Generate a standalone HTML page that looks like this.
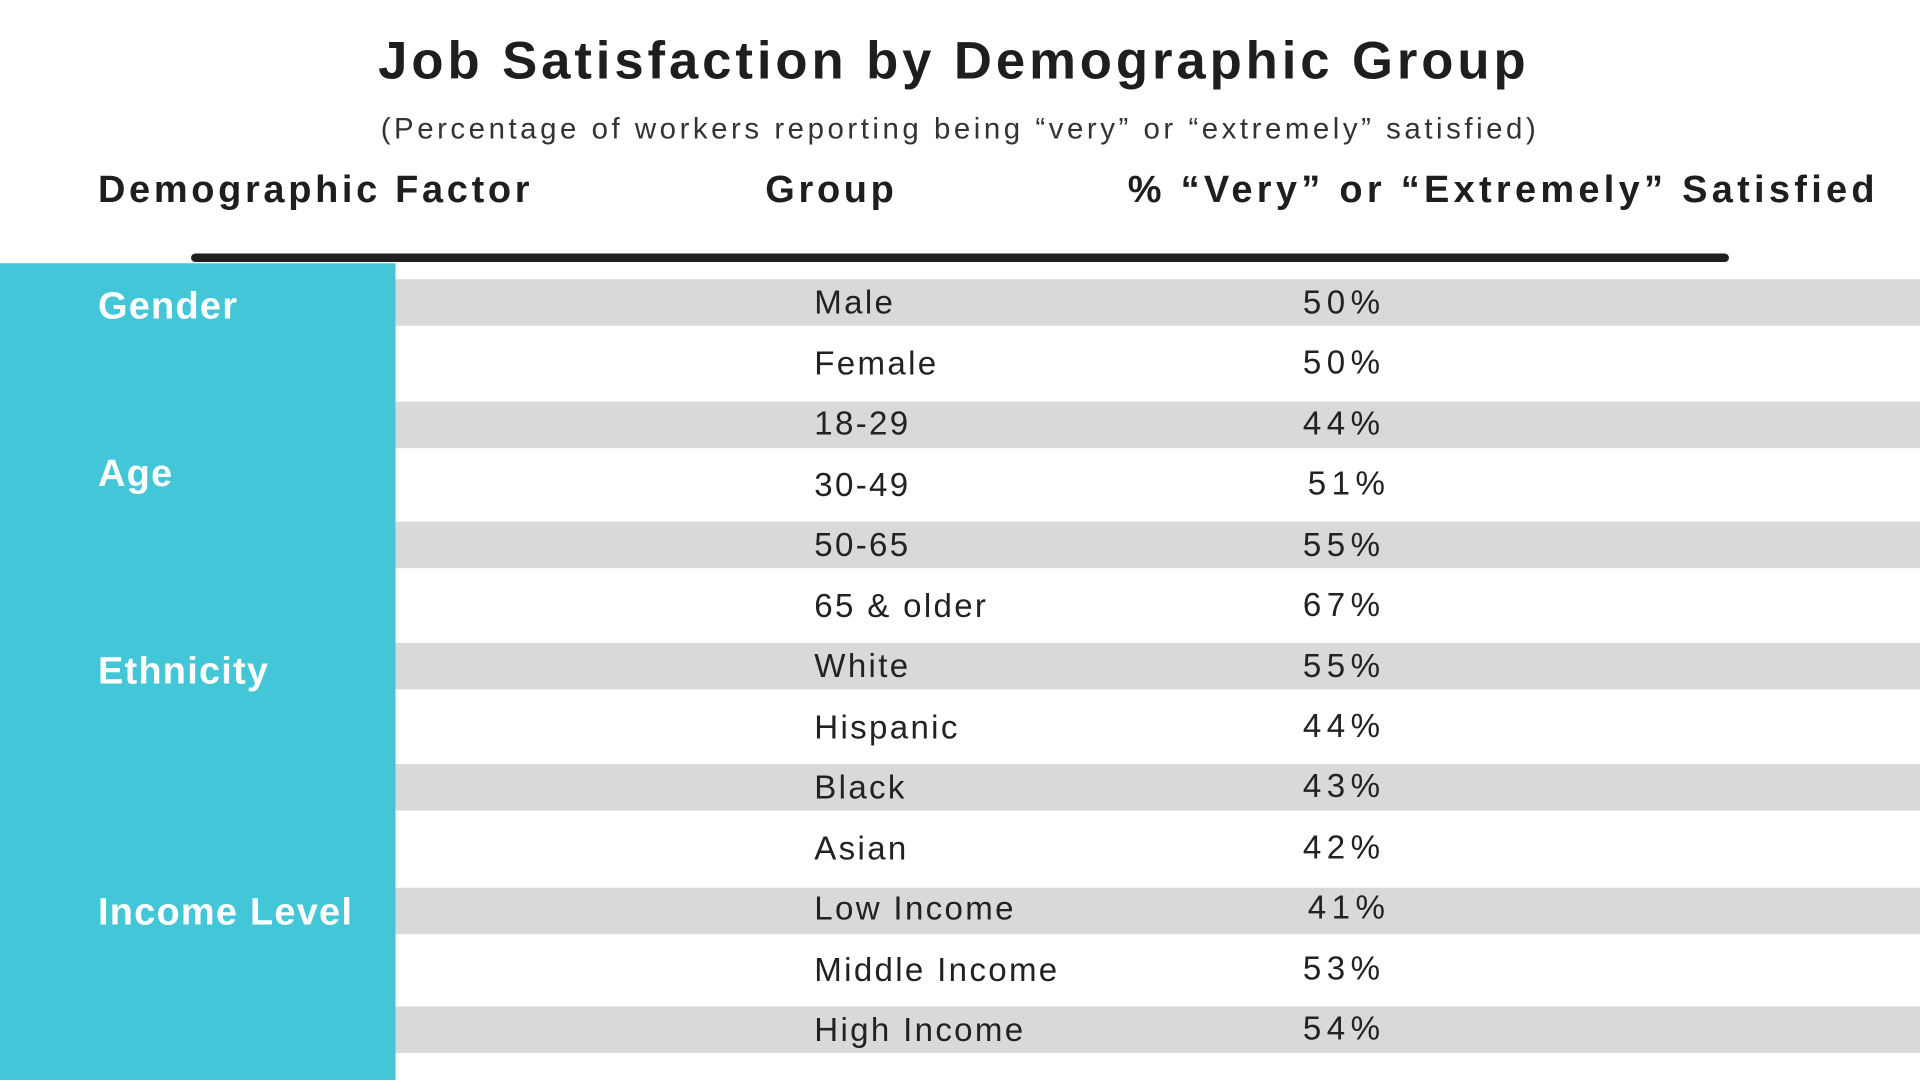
<!DOCTYPE html>
<html><head><meta charset="utf-8"><style>
html,body{margin:0;padding:0;background:#fff;overflow:hidden;width:1920px;height:1080px}
#w{position:absolute;left:0;top:0;width:1568px;height:882px;transform:scale(1.2244898);transform-origin:0 0;font-family:"Liberation Sans",sans-serif;color:#1e1e1e}
.a{position:absolute;white-space:nowrap}
.t{font-weight:bold;font-size:43px;left:0;width:1558px;text-align:center;top:26px;letter-spacing:3.2px}
.s{font-size:24px;left:0;width:1568px;text-align:center;top:92px;letter-spacing:2.9px;color:#333}
.h{font-weight:bold;font-size:31px;top:137px;letter-spacing:3px}
.g{position:absolute;left:323px;width:1245px;height:38px;background:#d9d9d9}
.r{font-size:27px;color:#222;letter-spacing:1.9px}
.p{font-size:27px;color:#222;letter-spacing:4.5px}
.l{font-weight:bold;font-size:31px;color:#fff;left:80px;letter-spacing:1px}
</style></head><body><div id="w">
<div class="a t">Job Satisfaction by Demographic Group</div>
<div class="a s">(Percentage of workers reporting being “very” or “extremely” satisfied)</div>
<div class="a h" style="left:80px">Demographic Factor</div>
<div class="a h" style="left:625px">Group</div>
<div class="a h" style="left:921px;letter-spacing:3.5px">% “Very” or “Extremely” Satisfied</div>
<div style="position:absolute;left:156px;top:207px;width:1256px;height:7px;background:#1f1f1f;border-radius:4px"></div>
<div style="position:absolute;left:0;top:215px;width:323px;height:667px;background:#42c6d8"></div>
<div class="g" style="top:228px"></div>
<div class="g" style="top:328px"></div>
<div class="g" style="top:426px"></div>
<div class="g" style="top:525px"></div>
<div class="g" style="top:624px"></div>
<div class="g" style="top:725px"></div>
<div class="g" style="top:822px"></div>
<div class="a l" style="top:232px">Gender</div>
<div class="a l" style="top:369px">Age</div>
<div class="a l" style="top:530px">Ethnicity</div>
<div class="a l" style="top:727px">Income Level</div>
<div class="a r" style="left:665px;top:232px">Male</div><div class="a p" style="left:1064px;top:232px">50%</div>
<div class="a r" style="left:665px;top:282px">Female</div><div class="a p" style="left:1064px;top:281px">50%</div>
<div class="a r" style="left:665px;top:331px">18-29</div><div class="a p" style="left:1064px;top:331px">44%</div>
<div class="a r" style="left:665px;top:381px">30-49</div><div class="a p" style="left:1068px;top:380px">51%</div>
<div class="a r" style="left:665px;top:430px">50-65</div><div class="a p" style="left:1064px;top:430px">55%</div>
<div class="a r" style="left:665px;top:480px">65 &amp; older</div><div class="a p" style="left:1064px;top:479px">67%</div>
<div class="a r" style="left:665px;top:529px">White</div><div class="a p" style="left:1064px;top:529px">55%</div>
<div class="a r" style="left:665px;top:579px">Hispanic</div><div class="a p" style="left:1064px;top:578px">44%</div>
<div class="a r" style="left:665px;top:628px">Black</div><div class="a p" style="left:1064px;top:627px">43%</div>
<div class="a r" style="left:665px;top:678px">Asian</div><div class="a p" style="left:1064px;top:677px">42%</div>
<div class="a r" style="left:665px;top:727px">Low Income</div><div class="a p" style="left:1068px;top:726px">41%</div>
<div class="a r" style="left:665px;top:777px">Middle Income</div><div class="a p" style="left:1064px;top:776px">53%</div>
<div class="a r" style="left:665px;top:826px">High Income</div><div class="a p" style="left:1064px;top:825px">54%</div>
</div></body></html>
